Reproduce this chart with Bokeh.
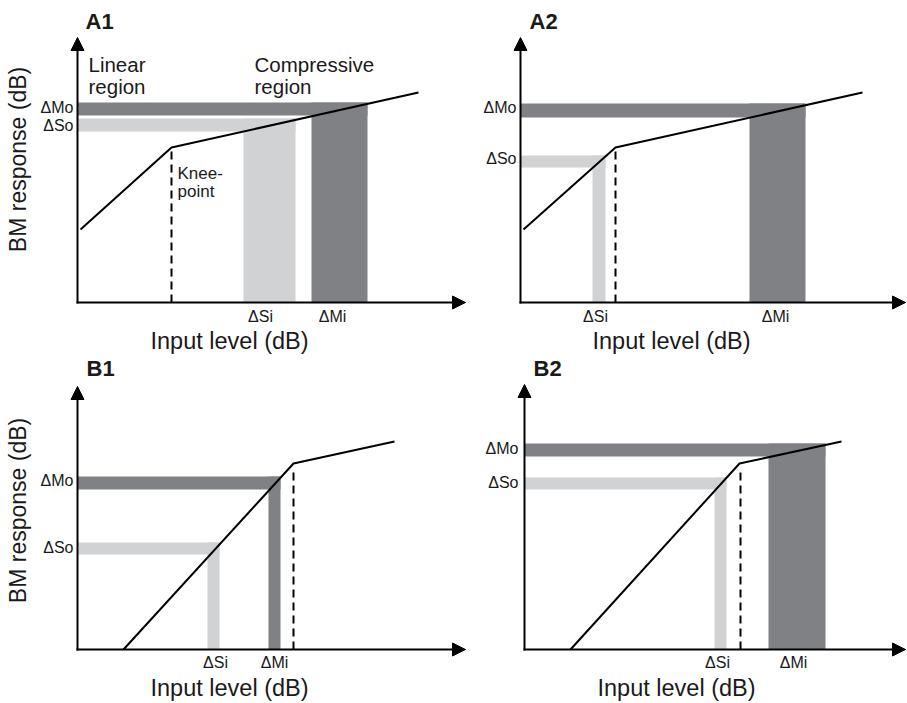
import math
from bokeh.plotting import figure
from bokeh.models import Range1d, Arrow, NormalHead
from bokeh.layouts import column, row
from bokeh.core.properties import value
from bokeh.embed import file_html
from bokeh.resources import INLINE

FONT = "Liberation Sans"
DARK = "#808184"
LIGHT = "#d1d2d4"
INK = "#1a1a1a"

# ---------------- data (schematic units, origin where the axes cross) -------------
# A1
A1_curve_x = [3, 94, 341]
A1_curve_y = [73, 155, 210]
A1_knee = [94, 155]          # knee-point input level, response at knee
A1_si = [166, 218]           # input range, soft tone
A1_so = [171, 184]           # output range, soft tone
A1_mi = [234, 290]           # input range, medium tone
A1_mo = [187, 200]           # output range, medium tone
# A2
A2_curve_x = [3, 95, 342]
A2_curve_y = [73, 155, 210]
A2_knee = [95, 155]
A2_si = [72, 85]
A2_so = [135, 147]
A2_mi = [229, 285]
A2_mo = [185, 199]
# B1
B1_curve_x = [46, 216, 317]
B1_curve_y = [0, 186, 208]
B1_knee = [216, 181]
B1_si = [130, 142]
B1_so = [95, 107]
B1_mi = [191, 203]
B1_mo = [160, 173]
# B2
B2_curve_x = [46, 215, 317]
B2_curve_y = [0, 186, 208]
B2_knee = [216, 181]
B2_si = [190, 202]
B2_so = [160, 172]
B2_mi = [244, 301]
B2_mo = [193, 206]

Y_TICK_LABELS = ["\u0394Mo", "\u0394So"]
X_TICK_LABELS = ["\u0394Si", "\u0394Mi"]
X_LABEL = "Input level (dB)"
Y_LABEL = "BM response (dB)"

# ---------------- layout (positions of frames and texts) ----------------
LAYOUT = {
    "A1": dict(w=468, h=355, xr=(-77, 391), yr=(-53, 302), tip=(388, 265),
               title=(8, 272), ytick_x=-4, ytick_y=[189, 171], xtick_x=[183, 255], xtick_y=-20,
               xlab=(152, -48), ylab=(-50, 143)),
    "A2": dict(w=439, h=355, xr=(-52, 387), yr=(-53, 302), tip=(385, 265),
               title=(9, 272), ytick_x=-4, ytick_y=[189, 138], xtick_x=[75, 255], xtick_y=-20,
               xlab=(151, -48), ylab=None),
    "B1": dict(w=468, h=348, xr=(-77, 391), yr=(-54, 294), tip=(388, 263),
               title=(9, 272), ytick_x=-4, ytick_y=[163, 96], xtick_x=[138, 197], xtick_y=-19,
               xlab=(152, -48), ylab=(-50, 139)),
    "B2": dict(w=439, h=348, xr=(-56, 383), yr=(-54, 294), tip=(381, 265),
               title=(9, 272), ytick_x=-6, ytick_y=[195, 161], xtick_x=[193, 269], xtick_y=-19,
               xlab=(152, -48), ylab=None),
}

# the svg text baseline lands lower than requested; shift by this fraction of the size
BASELINE_FIX = 0.4


def txt(p, xs, ys, texts, size, align="left", bold=False, angle=0.0):
    d = BASELINE_FIX * size
    if angle:
        xs = [x - d for x in xs]
    else:
        ys = [y + d for y in ys]
    p.text(x=xs, y=ys, text=texts, text_font=value(FONT), text_font_size=value(f"{size}px"),
           text_align=align, text_baseline="alphabetic", text_color=INK,
           text_font_style="bold" if bold else "normal", angle=angle)


def panel(name, cx, cy, knee, si, so, mi, mo):
    L = LAYOUT[name]
    p = figure(width=L["w"], height=L["h"], x_range=Range1d(*L["xr"]), y_range=Range1d(*L["yr"]),
               x_axis_type=None, y_axis_type=None, toolbar_location=None, output_backend="svg",
               min_border=0, outline_line_color=None, background_fill_color="white")
    p.grid.visible = False

    # light (soft) bands: horizontal output band and vertical input band
    p.quad(left=[0, si[0]], right=[si[1], si[1]], bottom=[so[0], 0], top=[so[1], so[1]],
           fill_color=LIGHT, line_color=None)
    # dark (medium) bands
    p.quad(left=[0, mi[0]], right=[mi[1], mi[1]], bottom=[mo[0], 0], top=[mo[1], mo[1]],
           fill_color=DARK, line_color=None)

    # knee-point dashed line
    p.line(x=[knee[0], knee[0]], y=[0, knee[1]], line_color="black", line_width=2,
           line_dash="8 5")
    # input-output function
    p.line(x=cx, y=cy, line_color="black", line_width=2)

    # axes with arrow heads
    tx, ty = L["tip"]
    for xs, ys, xe, ye in [(-1, 0, tx, 0), (0, -1, 0, ty)]:
        p.add_layout(Arrow(end=NormalHead(size=13, fill_color="black", line_color="black",
                                          line_width=1),
                           x_start=xs, y_start=ys, x_end=xe, y_end=ye,
                           line_color="black", line_width=2))

    # tick labels
    txt(p, [L["ytick_x"]] * 2, L["ytick_y"], Y_TICK_LABELS, 16, align="right")
    txt(p, L["xtick_x"], [L["xtick_y"]] * 2, X_TICK_LABELS, 16, align="center")
    # axis labels
    txt(p, [L["xlab"][0]], [L["xlab"][1]], [X_LABEL], 23.5, align="center")
    if L["ylab"] is not None:
        txt(p, [L["ylab"][0]], [L["ylab"][1]], [Y_LABEL], 23, align="center",
            angle=math.pi / 2)
    # panel title
    txt(p, [L["title"][0]], [L["title"][1]], [name], 22, bold=True)
    return p


a1 = panel("A1", A1_curve_x, A1_curve_y, A1_knee, A1_si, A1_so, A1_mi, A1_mo)
txt(a1, [11, 11], [230, 208], ["Linear", "region"], 20.5)
txt(a1, [177, 177], [230, 208], ["Compressive", "region"], 20.5)
txt(a1, [100, 100], [122, 104], ["Knee-", "point"], 17)

a2 = panel("A2", A2_curve_x, A2_curve_y, A2_knee, A2_si, A2_so, A2_mi, A2_mo)
b1 = panel("B1", B1_curve_x, B1_curve_y, B1_knee, B1_si, B1_so, B1_mi, B1_mo)
b2 = panel("B2", B2_curve_x, B2_curve_y, B2_knee, B2_si, B2_so, B2_mi, B2_mo)

layout = column(row(a1, a2), row(b1, b2))
open("out.html", "w").write(file_html(layout, INLINE))
